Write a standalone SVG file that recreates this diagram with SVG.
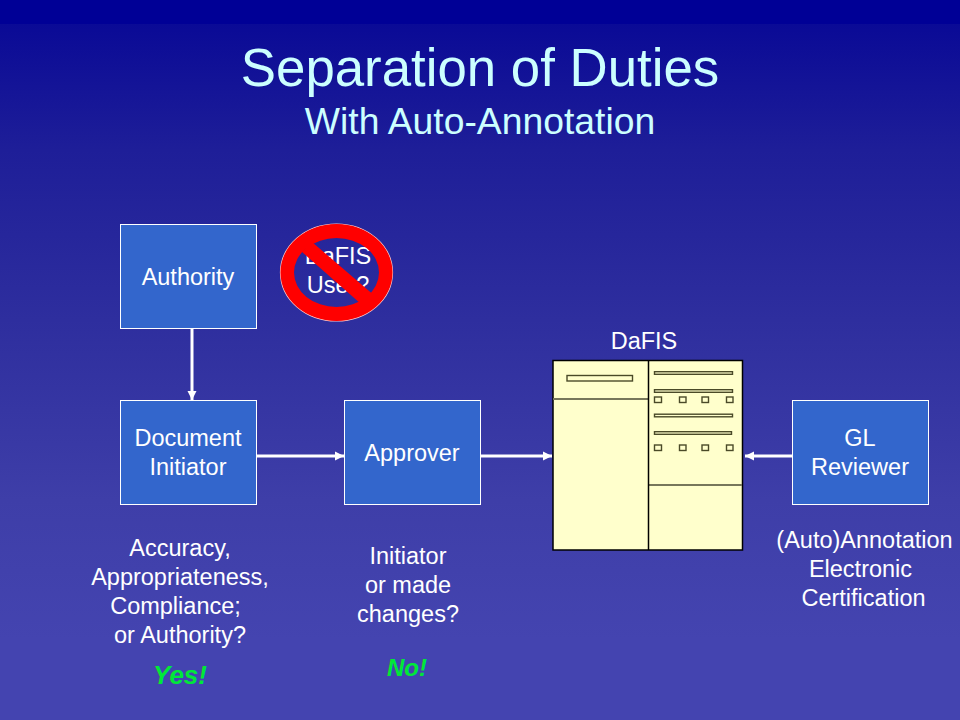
<svg xmlns="http://www.w3.org/2000/svg" width="960" height="720" viewBox="0 0 960 720">
<defs>
<linearGradient id="bg" gradientUnits="userSpaceOnUse" x1="0" y1="24" x2="0" y2="720">
<stop offset="0" stop-color="#0A0A96"/>
<stop offset="0.181" stop-color="#1E1E98"/>
<stop offset="0.425" stop-color="#2E2E9E"/>
<stop offset="0.684" stop-color="#3E3EA8"/>
<stop offset="0.885" stop-color="#4444B0"/>
<stop offset="1" stop-color="#4444B0"/>
</linearGradient>
<marker id="arrow" markerUnits="userSpaceOnUse" markerWidth="10" markerHeight="10" refX="9" refY="5" orient="auto">
<path d="M0,0.500 L9,5 L0,9.500 Z" fill="#fff"/>
</marker>
</defs>
<style>
text{font-family:"Liberation Sans",Arial,sans-serif;text-anchor:middle}
.t{fill:#fff;font-size:23.500px}
.h{fill:#CCFFFF}
.g{fill:#00E838;font-weight:bold;font-style:italic}
.box{fill:#3366CC;stroke:#fff;stroke-width:1}
.c{stroke:#fff;stroke-width:3;fill:none;marker-end:url(#arrow)}
.p{fill:#FFFFCC;stroke:#000;stroke-width:1.500}
.i{fill:#FFFFCC;stroke:#4A4A28;stroke-width:1.400}
.d{stroke:#77775A;stroke-width:2.200}
</style>
<rect width="960" height="720" fill="url(#bg)"/>
<rect width="960" height="24" fill="#000096"/>
<text class="h" x="480" y="86" style="font-size:52.800px">Separation of Duties</text>
<text class="h" x="480" y="134" style="font-size:37.300px">With Auto-Annotation</text>

<g id="connectors">
<line class="c" x1="192" y1="329" x2="192" y2="400"/>
<line class="c" x1="257" y1="456" x2="344" y2="456"/>
<line class="c" x1="481" y1="456" x2="552" y2="456"/>
<line class="c" x1="792" y1="456" x2="745" y2="456"/>
</g>

<g id="authority"><rect class="box" x="120.500" y="224.500" width="136" height="104"/><text class="t" x="188" y="285">Authority</text></g>
<g id="document-initiator"><rect class="box" x="120.500" y="400.500" width="136" height="104"/><text class="t" x="188" y="446">Document</text><text class="t" x="188" y="475">Initiator</text></g>
<g id="approver"><rect class="box" x="344.500" y="400.500" width="136" height="104"/><text class="t" x="412" y="461">Approver</text></g>
<g id="gl-reviewer"><rect class="box" x="792.500" y="400.500" width="136" height="104"/><text class="t" x="860" y="446">GL</text><text class="t" x="860" y="475">Reviewer</text></g>

<g id="dafis-user">
<text class="t" x="338" y="264">DaFIS</text><text class="t" x="338" y="293">User?</text>
<ellipse cx="336.500" cy="272.500" rx="56" ry="48.500" fill="none" stroke="#FFC8C8" stroke-width="1.200"/>
<path fill="#FF0000" fill-rule="evenodd" d="M392.500,272.500 A56,48.500 0 1 1 280.500,272.500 A56,48.500 0 1 1 392.500,272.500 Z M379,272.500 A42.500,34.500 0 1 0 294,272.500 A42.500,34.500 0 1 0 379,272.500 Z"/>
<polygon fill="#FF0000" points="301.700,251.700 311.700,241.700 371.700,293.300 361,304"/>
</g>

<g id="dafis">
<text class="t" x="644" y="349">DaFIS</text>
<rect class="p" x="553" y="360.500" width="189.500" height="189.500"/>
<line class="d" x1="553" y1="399" x2="648" y2="399"/>
<line class="d" x1="649" y1="485" x2="742" y2="485"/>
<line x1="648.500" y1="360.500" x2="648.500" y2="550" stroke="#000" stroke-width="1.500"/>
<rect class="i" x="567" y="375.500" width="65.500" height="5.500"/>
<rect class="i" x="654.500" y="371.700" width="78" height="2.600"/>
<rect class="i" x="654.500" y="389.700" width="78" height="2.600"/>
<rect class="i" x="654.500" y="414.200" width="78" height="2.600"/>
<rect class="i" x="654.500" y="431.700" width="77" height="2.600"/>
<g class="i">
<rect x="654.500" y="397" width="7" height="5.500"/><rect x="679.500" y="397" width="6.500" height="5.500"/><rect x="702" y="397" width="6.500" height="5.500"/><rect x="726.500" y="397" width="6.500" height="5.500"/>
<rect x="654.500" y="445" width="7" height="5.500"/><rect x="679.500" y="445" width="6.500" height="5.500"/><rect x="702" y="445" width="6.500" height="5.500"/><rect x="726.500" y="445" width="6.500" height="5.500"/>
</g>
</g>

<text class="t" x="180" y="556">Accuracy,</text>
<text class="t" x="180" y="585">Appropriateness,</text>
<text class="t" x="175.500" y="614">Compliance;</text>
<text class="t" x="180" y="643">or Authority?</text>
<text class="g" x="180" y="684" style="font-size:26px">Yes!</text>
<text class="t" x="408" y="564">Initiator</text>
<text class="t" x="408" y="593">or made</text>
<text class="t" x="408" y="622">changes?</text>
<text class="g" x="407" y="676" style="font-size:24px">No!</text>
<text class="t" x="864.500" y="548">(Auto)Annotation</text>
<text class="t" x="860.500" y="577">Electronic</text>
<text class="t" x="863.500" y="606">Certification</text>
</svg>
